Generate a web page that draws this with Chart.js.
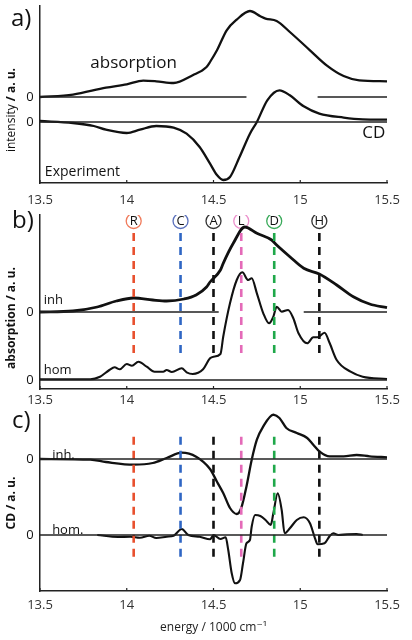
<!DOCTYPE html>
<html>
<head>
<meta charset="utf-8">
<script src="https://cdn.jsdelivr.net/npm/chart.js"></script>
<style>
  html, body { margin: 0; padding: 0; background: #fff; width: 412px; height: 640px; overflow: hidden; }
  .panel { position: absolute; left: 0; width: 412px; }
</style>
</head>
<body>
<div class="panel" style="top:0; height:210px"><canvas id="chartA"></canvas></div>
<div class="panel" style="top:204px; height:206px"><canvas id="chartB"></canvas></div>
<div class="panel" style="top:410px; height:230px"><canvas id="chartC"></canvas></div>

<script>
// ---- data (energy in 1000 cm-1, intensity in a.u.) ----
const xTicks = [13.5, 14, 14.5, 15, 15.5]

// a) experiment
const expAbsE = [13.5, 13.69, 13.88, 14.0, 14.095, 14.17, 14.27, 14.38, 14.46, 14.48, 14.52, 14.576, 14.634, 14.71, 14.77, 14.8, 14.864, 14.94, 15.056, 15.152, 15.25, 15.34, 15.5]
const expAbs  = [0, 2.4, 9.4, 12.7, 16.4, 15.7, 14, 21.7, 30, 35, 46.7, 66.7, 77.4, 86, 80.7, 78.4, 76, 65, 46.7, 31.7, 21, 16.7, 15.7]
const expCdE  = [13.5, 13.69, 13.81, 13.88, 14.0, 14.076, 14.17, 14.27, 14.345, 14.42, 14.48, 14.52, 14.556, 14.595, 14.65, 14.71, 14.75, 14.81, 14.88, 14.94, 15.02, 15.11, 15.25, 15.36, 15.5]
const expCd   = [1, -1, -4, -7.7, -11, -7.7, -4, -5.7, -11.7, -25, -41.6, -53, -58, -55, -35, -11.7, 0, 21.7, 31.7, 26.7, 15.7, 8.4, 4.4, 2.7, 2.4]

// b) absorption, inhomogeneous / homogeneous
const absInhE = [13.5, 13.69, 13.83, 13.94, 14.04, 14.15, 14.23, 14.33, 14.4, 14.46, 14.48, 14.54, 14.556, 14.614, 14.68, 14.75, 14.835, 14.864, 14.94, 15.02, 15.11, 15.21, 15.306, 15.4, 15.5]
const absInh  = [0, 1, 5, 11, 14, 12, 11, 13, 17, 25, 30, 42, 48.7, 68.7, 85, 78.7, 72, 67, 55.3, 43.7, 38, 27, 15.3, 8, 4.3]
const absHomE = [13.5, 13.79, 13.846, 13.9, 13.93, 13.96, 14.0, 14.03, 14.067, 14.115, 14.16, 14.21, 14.23, 14.26, 14.317, 14.345, 14.38, 14.44, 14.48, 14.5, 14.54, 14.556, 14.595, 14.634, 14.666, 14.7, 14.72, 14.75, 14.787, 14.82, 14.845, 14.864, 14.893, 14.93, 14.96, 14.99, 15.04, 15.075, 15.1, 15.14, 15.17, 15.21, 15.29, 15.36, 15.5]
const absHom  = [0.7, 0.7, 3.3, 10, 12.7, 10.7, 16, 14.3, 18.3, 13.3, 8.3, 8.3, 10, 8, 11.7, 7.7, 6, 10.7, 21.7, 23.3, 26, 43.3, 76.7, 100, 107.7, 100, 101.7, 86.7, 66.7, 56.7, 63.3, 73.3, 68.3, 70, 61.7, 46.7, 36.7, 42.7, 42.7, 47.3, 36.7, 20, 8.3, 3.3, 1]

// c) CD, inhomogeneous / homogeneous
const cdInhE = [13.5, 13.79, 13.88, 14.04, 14.15, 14.23, 14.317, 14.4, 14.48, 14.52, 14.556, 14.595, 14.634, 14.66, 14.69, 14.72, 14.75, 14.787, 14.845, 14.88, 14.92, 14.98, 15.04, 15.075, 15.11, 15.17, 15.25, 15.325, 15.4, 15.5]
const cdInh  = [0, -0.7, -3, -5.7, -4, 1, 6.3, 2.3, -10, -22.7, -34, -49, -55, -49, -27.4, -1, 19.3, 32.7, 44.3, 41, 31, 26, 21, 14.3, 7.7, 2.7, 2.7, 4, 2.7, 1.7]
const cdHomE = [13.83, 13.95, 14.02, 14.076, 14.13, 14.17, 14.23, 14.27, 14.317, 14.355, 14.42, 14.48, 14.5, 14.54, 14.57, 14.585, 14.605, 14.624, 14.653, 14.67, 14.69, 14.71, 14.72, 14.74, 14.77, 14.8, 14.83, 14.845, 14.87, 14.893, 14.91, 14.94, 14.98, 15.02, 15.056, 15.085, 15.1, 15.14, 15.17, 15.19, 15.22, 15.27, 15.325, 15.36]
const cdHom  = [0, -2, -1.7, -2.7, -0.7, -3, -1.7, -0.7, 6, 0, -1.7, -4.3, 0, -4, -2.3, -15, -38.3, -48.3, -45, -28.3, -8.3, -5, 8.3, 20, 19, 15, 10, 21.7, 41.7, 25, 1.7, 6.7, 15, 17.7, 11.7, -3.3, -9.3, -8.3, -1, 1.7, 0, 0.7, 1, 0]

// transition markers
const markerNames = ["R", "C", "A", "L", "D", "H"]
const markerE = [14.04, 14.31, 14.5, 14.66, 14.85, 15.11]
const markerColors = ["#e8502e", "#2f66c4", "#111111", "#e46ab8", "#1fa84a", "#111111"]
const ringColors = ["#f07a5a", "#5a70bc", "#333333", "#ec90cc", "#3aaa5a", "#333333"]

const FONT = "'Open Sans', 'DejaVu Sans', sans-serif"

// build {x,y} points, shifted up by the offset of that trace
const pts = (xs, ys, off) => xs.map((x, i) => ({x: x, y: ys[i] + off}))

const curve = (data, w) => ({
  data: data, borderColor: "#111", borderWidth: w || 2.3, pointRadius: 0,
  cubicInterpolationMode: "monotone", fill: false, clip: 6
})
const zeroLine = (data) => ({
  data: data, borderColor: "#222", borderWidth: 1.3, pointRadius: 0, fill: false, spanGaps: false
})

// draws text labels, rotated axis titles and small inward x ticks
const textPlugin = {
  id: "panelText",
  afterDraw(chart, args, opts) {
    const ctx = chart.ctx
    const xs = chart.scales.x, ys = chart.scales.y
    ctx.save()
    // inward tick marks
    ctx.strokeStyle = "#222"
    ctx.lineWidth = 1.2
    xs.ticks.forEach(t => {
      const p = xs.getPixelForValue(t.value)
      ctx.beginPath()
      ctx.moveTo(p, chart.chartArea.bottom)
      ctx.lineTo(p, chart.chartArea.bottom - 3)
      ctx.stroke()
    })
    ctx.textBaseline = "middle"
    ;(opts.items || []).forEach(it => {
      const px = it.ex !== undefined ? xs.getPixelForValue(it.ex) : it.px
      const py = it.val !== undefined ? ys.getPixelForValue(it.val) : it.py
      ctx.fillStyle = it.color || "#111"
      if (it.parts) {
        // rotated title made of several font runs
        ctx.save()
        ctx.translate(px, py)
        ctx.rotate(-Math.PI / 2)
        let total = 0
        it.parts.forEach(p => { ctx.font = p.font; total += ctx.measureText(p.text).width })
        let cx = -total / 2
        ctx.textAlign = "left"
        it.parts.forEach(p => {
          ctx.font = p.font
          ctx.fillText(p.text, cx, 0)
          cx += ctx.measureText(p.text).width
        })
        ctx.restore()
      } else {
        ctx.font = it.font
        ctx.textAlign = it.align || "left"
        ctx.fillText(it.text, px, py)
      }
    })
    ctx.restore()
  }
}

function makeOptions(yMin, yMax, padTop, xHeight, tickPad, items, title) {
  return {
    responsive: true,
    maintainAspectRatio: false,
    animation: false,
    events: [],
    layout: { padding: { top: padTop, right: 25, bottom: 0, left: 0 } },
    plugins: { legend: { display: false }, tooltip: { enabled: false }, panelText: { items: items } },
    scales: {
      x: {
        type: "linear", min: 13.5, max: 15.5,
        afterBuildTicks: (s) => { s.ticks = xTicks.map(v => ({value: v})) },
        afterFit: (s) => { s.height = xHeight },
        grid: { display: false, drawTicks: false },
        border: { display: true, color: "#222", width: 1.5 },
        ticks: { color: "#333", padding: tickPad, maxRotation: 0, font: { family: FONT, size: 13 }, callback: (v) => String(v) },
        title: title ? { display: true, text: title, color: "#222", font: { family: FONT, size: 12 }, padding: { top: 0, bottom: 5 } } : { display: false }
      },
      y: {
        type: "linear", min: yMin, max: yMax,
        afterFit: (s) => { s.width = 40 },
        grid: { display: false, drawTicks: false },
        border: { display: true, color: "#222", width: 1.5 },
        ticks: { display: false }
      }
    }
  }
}

const bold12 = "bold 12px " + FONT
const reg12 = "12px " + FONT

// ---------- panel a ----------
const aAbsOff = 0, aCdOff = -25
new Chart(document.getElementById("chartA"), {
  type: "line",
  data: {
    datasets: [
      zeroLine([{x: 13.5, y: aAbsOff}, {x: 14.69, y: aAbsOff}, {x: 14.9, y: null}, {x: 15.1, y: aAbsOff}, {x: 15.5, y: aAbsOff}]),
      zeroLine([{x: 13.5, y: aCdOff}, {x: 15.5, y: aCdOff}]),
      curve(pts(expAbsE, expAbs, aAbsOff)),
      curve(pts(expCdE, expCd, aCdOff))
    ]
  },
  options: makeOptions(-86, 91, 6, 27, 9, [
    {text: "a)", px: 11, py: 19, font: "24px " + FONT},
    {text: "absorption", ex: 13.79, val: 33.5, font: "17px " + FONT},
    {text: "CD", ex: 15.49, val: -36, font: "17px " + FONT, align: "right"},
    {text: "Experiment", ex: 13.528, val: -75, font: "14px " + FONT},
    {text: "0", px: 30, val: aAbsOff, font: "13px " + FONT, align: "center"},
    {text: "0", px: 30, val: aCdOff, font: "13px " + FONT, align: "center"},
    {px: 12, py: 110, parts: [{text: "intensity ", font: reg12}, {text: "/ a. u.", font: bold12}]}
  ]),
  plugins: [textPlugin]
})

// ---------- panel b ----------
const bInhOff = 68, bHomOff = 0
const bDashes = markerE.map((e, i) => ({
  data: [{x: e, y: 27}, {x: e, y: 152}], borderColor: markerColors[i], borderWidth: 2.6,
  borderDash: [8, 6], pointRadius: 0, fill: false
}))
const bRings = {
  data: markerE.map(e => ({x: e, y: 159})), showLine: false, pointStyle: "circle",
  pointRadius: 7.5, pointBorderWidth: 1.3, pointBackgroundColor: "#fff", pointBorderColor: ringColors
}
new Chart(document.getElementById("chartB"), {
  type: "line",
  data: {
    datasets: [
      zeroLine([{x: 13.5, y: bInhOff}, {x: 14.53, y: bInhOff}, {x: 14.8, y: null}, {x: 15.02, y: bInhOff}, {x: 15.5, y: bInhOff}]),
      zeroLine([{x: 13.5, y: bHomOff}, {x: 15.5, y: bHomOff}]),
      ...bDashes,
      curve(pts(absInhE, absInh, bInhOff), 2.8),
      curve(pts(absHomE, absHom, bHomOff), 2.1),
      bRings
    ]
  },
  options: makeOptions(-9, 165, 11, 21, 3, [
    {text: "b)", px: 12, py: 17, font: "24px " + FONT},
    {text: "inh", ex: 13.522, val: 80, font: "13px " + FONT},
    {text: "hom", ex: 13.522, val: 10, font: "13px " + FONT},
    {text: "0", px: 30, val: bInhOff, font: "13px " + FONT, align: "center"},
    {text: "0", px: 30, val: bHomOff, font: "13px " + FONT, align: "center"},
    {px: 12, py: 114, parts: [{text: "absorption / a. u.", font: bold12}]},
    ...markerNames.map((n, i) => ({text: n, ex: markerE[i], val: 159, font: "13px " + FONT, align: "center"}))
  ]),
  plugins: [textPlugin]
})

// ---------- panel c ----------
const cInhOff = 76, cHomOff = 0
const cDashes = markerE.map((e, i) => ({
  data: [{x: e, y: -21.7}, {x: e, y: 103.3}], borderColor: markerColors[i], borderWidth: 2.6,
  borderDash: [8, 6], pointRadius: 0, fill: false
}))
new Chart(document.getElementById("chartC"), {
  type: "line",
  data: {
    datasets: [
      zeroLine([{x: 13.5, y: cInhOff}, {x: 15.5, y: cInhOff}]),
      zeroLine([{x: 13.5, y: cHomOff}, {x: 15.5, y: cHomOff}]),
      ...cDashes,
      curve(pts(cdInhE, cdInh, cInhOff)),
      curve(pts(cdHomE, cdHom, cHomOff), 2.1)
    ]
  },
  options: makeOptions(-56, 120, 5, 49, 6, [
    {text: "c)", px: 12, py: 11, font: "24px " + FONT},
    {text: "inh.", ex: 13.57, val: cInhOff + 4, font: "13px " + FONT},
    {text: "hom.", ex: 13.57, val: cHomOff + 5, font: "13px " + FONT},
    {text: "0", px: 30, val: cInhOff, font: "13px " + FONT, align: "center"},
    {text: "0", px: 30, val: cHomOff, font: "13px " + FONT, align: "center"},
    {px: 12, py: 93, parts: [{text: "CD / a. u.", font: bold12}]}
  ], "energy / 1000 cm\u207B\u00B9"),
  plugins: [textPlugin]
})
</script>
</body>
</html>
